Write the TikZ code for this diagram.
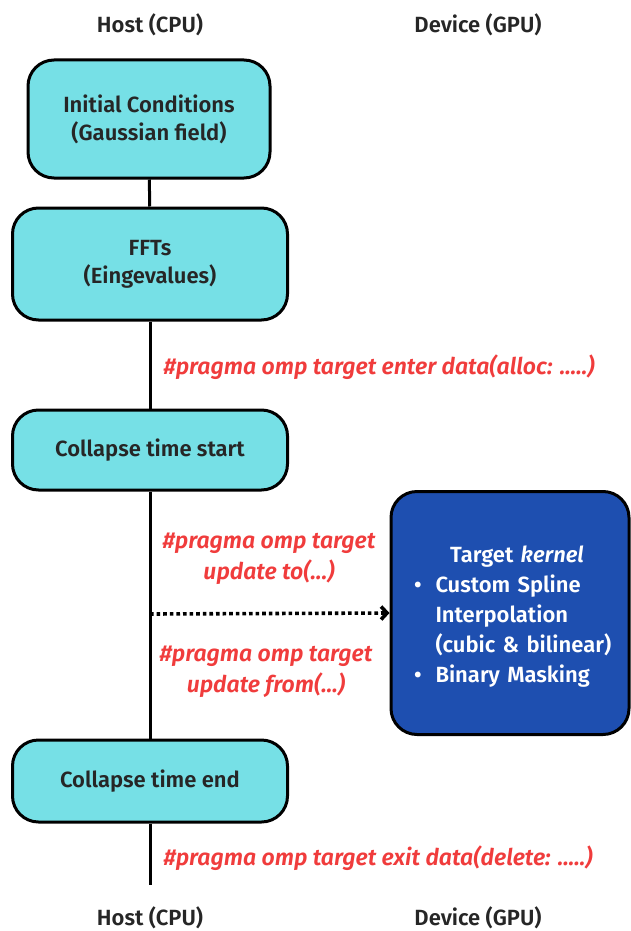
\documentclass[tikz,border=0pt]{standalone}
\usepackage{fontspec}
\setmainfont{Fira Sans}[BoldFont={Fira Sans SemiBold},BoldItalicFont={Fira Sans SemiBold Italic}]
\usepackage{xcolor}
\usetikzlibrary{arrows.meta,positioning}

\definecolor{hostcyan}{HTML}{76E0E6}
\definecolor{kernelblue}{HTML}{1E4FB0}
\definecolor{pragmared}{HTML}{F03C3C}

\tikzset{
    hostbox/.style={draw, line width=3pt, fill=hostcyan, rounded corners=26pt,
        align=center, font=\fontsize{22}{28}\selectfont\bfseries, text=black!85},
    kernelbox/.style={draw, line width=3pt, fill=kernelblue, rounded corners=26pt,
        text=white, font=\fontsize{22}{30}\selectfont\bfseries},
    pragma/.style={text=pragmared, align=center, font=\fontsize{23}{31}\selectfont\bfseries\itshape},
    side/.style={font=\fontsize{22}{26}\selectfont\bfseries, text=black!85},
    flow/.style={line width=3pt}
}

\begin{document}
\begin{tikzpicture}[x=1pt,y=-1pt]
        \useasboundingbox (0,0) rectangle (631,931);

        \node[side] (hosttop) at (150,25) {Host (CPU)};
        \node[side] (devtop) at (478,25) {Device (GPU)};
        \node[side] (hostbot) at (150,918) {Host (CPU)};
        \node[side] (devbot) at (478,918) {Device (GPU)};

        \node[hostbox, minimum width=242pt, minimum height=118pt] (init) at (149,119) {Initial Conditions\\(Gaussian field)};
        \node[hostbox, minimum width=275pt, minimum height=112pt] (fft) at (150,264) {FFTs\\(Eingevalues)};
        \node[hostbox, minimum width=275pt, minimum height=80pt] (start) at (150,450) {Collapse time start};
        \node[hostbox, minimum width=275pt, minimum height=82pt] (end) at (150,781) {Collapse time end};

        \node[kernelbox, minimum width=238pt, minimum height=243pt] (kernel) at (510,613) {};
        \node[kernelbox, draw=none, fill=none, align=left, text width=206pt, inner sep=0pt] (kerneltext) at (517,619) {%
            \centering Target \textit{kernel}\par\vspace{3pt}
            \begin{tabular}{@{}l@{\hspace{14pt}}l@{}}
            \textbullet & Custom Spline\\
                        & Interpolation\\
                        & (cubic \& bilinear)\\
            \textbullet & Binary Masking
            \end{tabular}};

        \coordinate (tap) at (150,614);
        \coordinate (stop) at (150,885);

        \draw[flow] (init) -- (fft);
        \draw[flow] (fft) -- (start);
        \draw[flow] (start) -- (end);
        \draw[flow] (end) -- (stop);

        \draw[line width=3.6pt, dash pattern=on 3.6pt off 3pt, -{Straight Barb[length=6pt,width=13pt]}] (tap) -- (kernel.west);

        \node[pragma, anchor=west] (enter) at (160,367) {\#pragma omp target enter data(alloc: .....)};
        \node[pragma] (upto) at (269,559) {\#pragma omp target\\update to(...)};
        \node[pragma] (upfrom) at (266,672) {\#pragma omp target\\update from(...)};
        \node[pragma, anchor=west] (exit) at (160,858) {\#pragma omp target exit data(delete: .....)};

    \end{tikzpicture}
\end{document}
